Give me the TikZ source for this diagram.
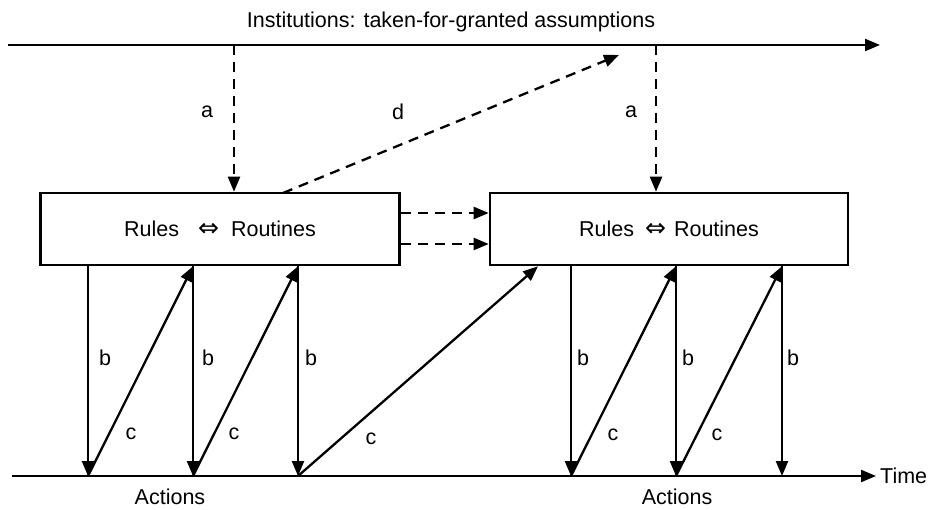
\documentclass[tikz,border=0pt]{standalone}
\usepackage{fontspec}
\setmainfont{Liberation Sans}
\newfontfamily\symfont{DejaVu Sans}
\usetikzlibrary{arrows.meta}
\begin{document}
\begin{tikzpicture}[x=1pt,y=-1pt,
  line width=2.3pt,
  tip/.style={-{Triangle[length=15pt,width=12pt]}},
  dashline/.style={dash pattern=on 10pt off 7pt},
  box/.style={draw, line width=2.6pt, minimum height=72pt, inner sep=0pt},
  lab/.style={font=\fontsize{21.5}{25}\selectfont, inner sep=0pt}
]
\useasboundingbox (0,0) rectangle (928,510);

% time lines
\coordinate (inA) at (8,45);
\coordinate (inB) at (880,45);
\coordinate (acA) at (12,476);
\coordinate (acB) at (876,476);
\draw[tip] (inA) -- (inB);
\draw[tip] (acA) -- (acB);

\node[lab] (title) at (451,22) {Institutions: taken-for-granted assumptions};
\node[lab, anchor=west] (time) at (879,476) {Time};
\node[lab] (act1) at (170,497) {Actions};
\node[lab] (act2) at (677,497) {Actions};

% boxes
\node[box, minimum width=359pt] (box1) at (220,229)
  {\fontsize{21.5}{25}\selectfont Rules\hspace{19pt}{\symfont\fontsize{25}{25}\selectfont ⇔}\hspace{12pt}Routines};
\node[box, minimum width=358pt] (box2) at (669,229)
  {\fontsize{21.5}{25}\selectfont Rules\hspace{11pt}{\symfont\fontsize{25}{25}\selectfont ⇔}\hspace{8pt}Routines};

% institution points
\coordinate (i1) at (234,45);
\coordinate (i2) at (656,45);
\coordinate (dEnd) at (619,55);
\coordinate (dStart) at (283,193);
\draw[tip, dashline] (i1) -- (i1 |- box1.north);
\draw[tip, dashline] (i2) -- (i2 |- box2.north);
\draw[tip, dashline] (dStart) -- (dEnd);
\node[lab] (la1) at (207,112) {a};
\node[lab] (ld) at (398,112) {d};
\node[lab] (la2) at (631,112) {a};

% box to box
\draw[tip, dashline] (box1.east |- 0,213) -- (box2.west |- 0,213);
\draw[tip, dashline] (box1.east |- 0,244) -- (box2.west |- 0,244);

% action points
\coordinate (p1) at (88,476);
\coordinate (p2) at (193,476);
\coordinate (p3) at (298,476);
\coordinate (p4) at (571,476);
\coordinate (p5) at (676,476);
\coordinate (p6) at (782,476);

% b arrows
\foreach \p in {p1,p2,p3} \draw[tip] (box1.south -| \p) -- (\p);
\foreach \p in {p4,p5,p6} \draw[tip] (box2.south -| \p) -- (\p);

% c arrows
\draw[tip] (p1) -- (box1.south -| p2);
\draw[tip] (p2) -- (box1.south -| p3);
\draw[tip] (p3) -- (box2.south -| 538,0);
\draw[tip] (p4) -- (box2.south -| p5);
\draw[tip] (p5) -- (box2.south -| p6);

% labels
\node[lab] (b1) at (105,358) {b};
\node[lab] (b2) at (208,358) {b};
\node[lab] (b3) at (311,358) {b};
\node[lab] (b4) at (583,358) {b};
\node[lab] (b5) at (688,358) {b};
\node[lab] (b6) at (793,358) {b};
\node[lab] (c1) at (131,434) {c};
\node[lab] (c2) at (234,434) {c};
\node[lab] (c3) at (371,439) {c};
\node[lab] (c4) at (613,435) {c};
\node[lab] (c5) at (717,435) {c};
\end{tikzpicture}
\end{document}
